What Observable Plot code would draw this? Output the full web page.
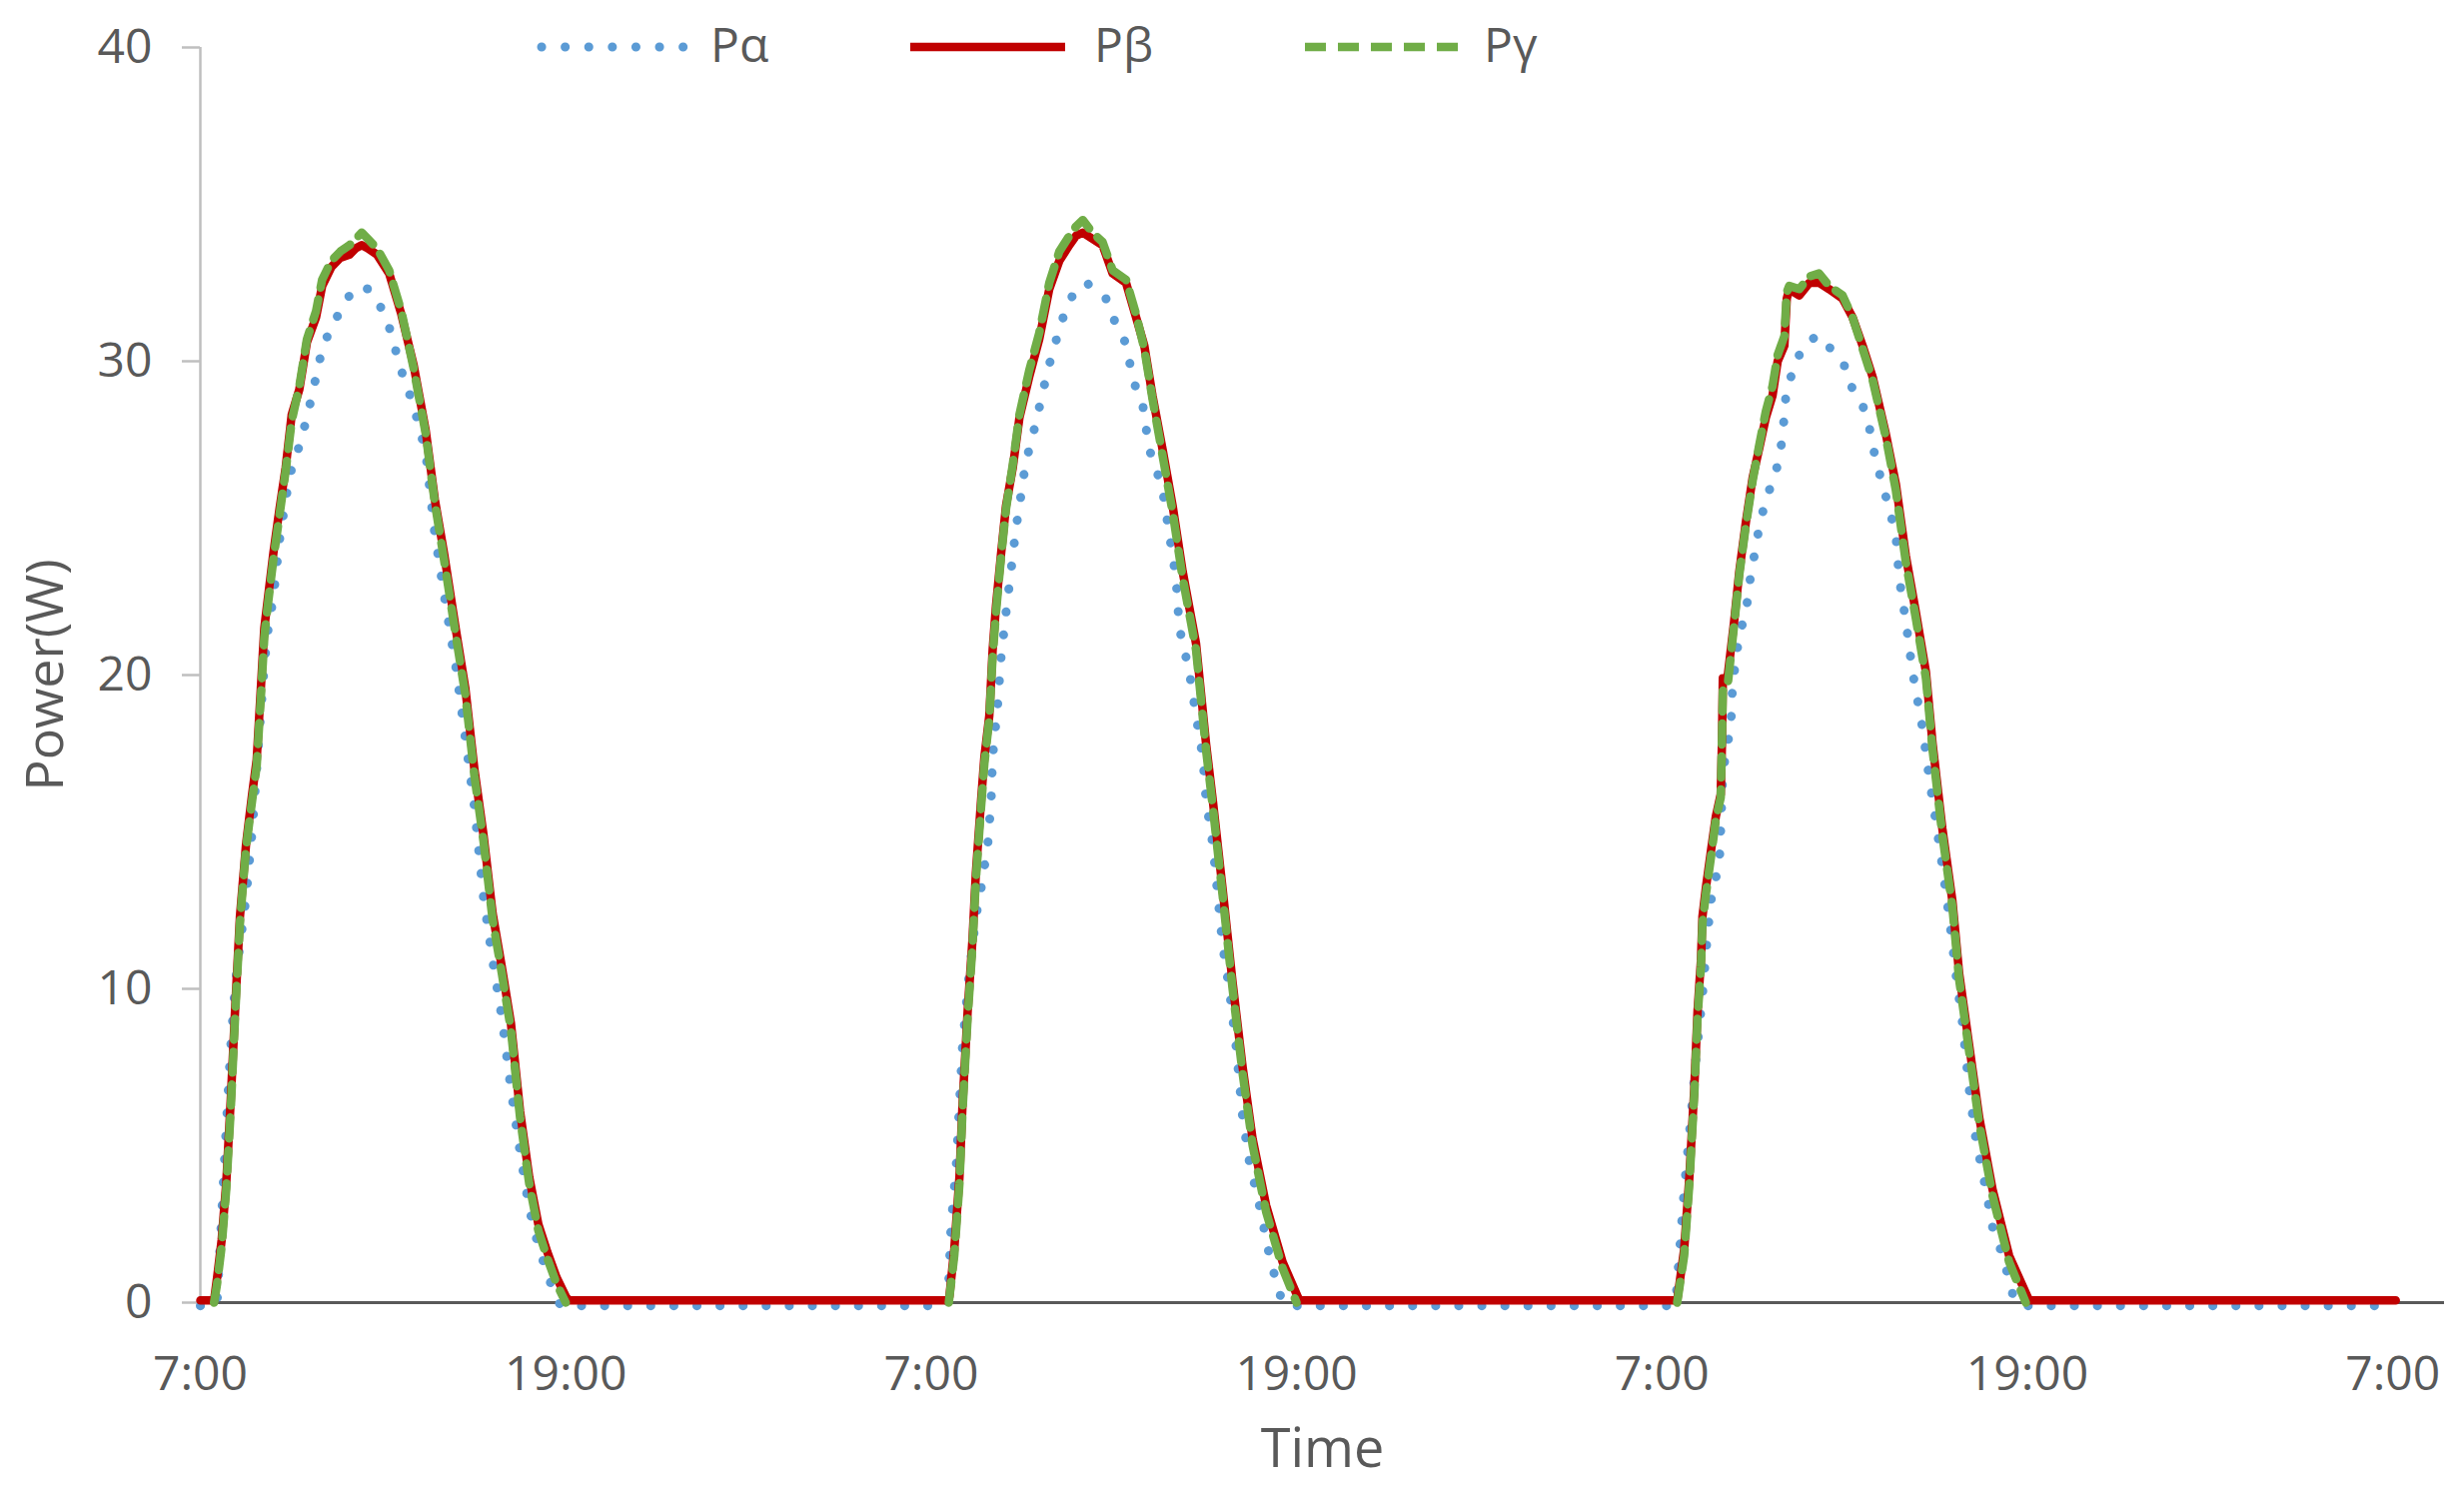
<!DOCTYPE html>
<html><head><meta charset="utf-8">
<script src="https://cdn.jsdelivr.net/npm/d3@7"></script>
<script src="https://cdn.jsdelivr.net/npm/@observablehq/plot@0.6"></script>
<style>
body{margin:0;background:#fff;}
#wrap{position:relative;width:2466px;height:1493px;}
#legend{position:absolute;left:0;top:0;z-index:2;}
</style></head><body>
<div id="wrap"></div>
<script>
// ---- data (hours since first 7:00, power in W) ----
const seriesNames = ["Pα", "Pβ", "Pγ"];
const seriesColors = ["#5b9bd5", "#c00000", "#70ad47"];
const tickHours = [0, 12, 24, 36, 48, 60, 72];
const tickLabels = ["7:00", "19:00", "7:00", "19:00", "7:00", "19:00", "7:00"];
const yTicks = [0, 10, 20, 30, 40];
const xDomain = [0, 73.7];

const pAlpha = [
  [0,-0.1],[0.45,-0.1],[0.55,0],[0.7,2.8],[0.85,5.6],[1.0,8.2],[1.15,10.2],[1.3,11.4],[1.5,12.9],[1.7,15.0],
  [1.85,17.0],[2.0,19.0],[2.1,20.3],[2.2,21.3],[2.4,22.5],[2.6,24.3],[2.8,25.6],[3.0,26.6],[3.25,27.3],[3.5,28.2],
  [3.8,29.5],[4.0,30.4],[4.3,31.1],[4.6,31.6],[4.9,32.1],[5.1,32.3],[5.3,32.4],[5.5,32.3],[5.8,32.0],[6.2,31.1],
  [6.6,29.7],[7.0,28.6],[7.4,27.1],[7.7,24.5],[8.0,22.6],[8.4,20.2],[8.7,18.0],[9.0,15.8],[9.3,12.9],[9.6,10.9],
  [9.9,9.1],[10.2,6.8],[10.5,4.8],[10.8,3.0],[11.1,1.8],[11.4,0.9],[11.7,0.1],[11.85,-0.1],
  [24.49,-0.1],[24.55,0],[24.65,2.4],[24.82,4.3],[25.03,8.2],[25.25,10.5],[25.47,12.3],[25.64,13.2],[25.86,14.6],[25.97,16.0],
  [26.02,17.4],[26.18,19.0],[26.29,20.5],[26.46,22.0],[26.62,23.3],[26.79,24.7],[26.9,25.4],[27.11,26.8],[27.33,27.6],[27.5,28.3],
  [27.66,29.0],[27.83,29.7],[27.99,30.3],[28.21,31.0],[28.43,31.7],[28.76,32.3],[29.09,32.5],[29.41,32.3],[29.74,32.0],[30.02,31.3],
  [30.34,30.7],[30.51,30.0],[30.67,29.3],[30.95,28.6],[31.16,27.2],[31.38,26.6],[31.6,25.9],[31.82,24.5],[32.04,23.1],[32.15,21.5],
  [32.48,20.1],[32.7,18.7],[32.92,17.4],[33.03,16.0],[33.25,14.6],[33.41,13.0],[33.57,11.4],[33.79,10.0],[34.01,8.2],[34.23,5.9],
  [34.45,4.5],[34.78,3.1],[35.11,1.5],[35.43,0.3],[35.65,-0.1],
  [48.35,-0.1],[48.45,0],[48.73,3.6],[48.95,5.9],[49.11,7.7],[49.33,9.8],[49.5,11.8],[49.66,13.2],[49.88,13.9],[49.94,15.3],
  [49.99,16.7],[50.1,17.6],[50.26,18.3],[50.32,19.7],[50.54,21.3],[50.76,22.0],[50.87,22.9],[51.03,23.8],[51.19,24.7],[51.41,25.6],
  [51.69,26.3],[51.85,26.9],[51.96,27.6],[52.07,28.9],[52.29,29.7],[52.51,30.2],[52.84,30.7],[53.27,30.8],[53.6,30.3],[54.04,29.8],
  [54.26,29.1],[54.59,28.6],[54.81,27.9],[55.03,26.8],[55.24,26.1],[55.46,25.3],[55.68,24.5],[55.79,23.1],[56.01,21.7],[56.23,20.1],
  [56.56,18.3],[56.78,16.7],[57.0,15.3],[57.21,13.9],[57.43,12.3],[57.65,10.5],[57.87,8.9],[58.09,6.8],[58.31,5.2],[58.64,3.6],
  [58.86,2.4],[59.19,1.5],[59.51,0.3],[59.73,-0.1],[72.1,-0.1]
];

const pBeta = [
  [0,0.07],[0.45,0.07],[0.55,0.8],[0.7,2.0],[0.85,3.8],[1.0,6.5],[1.15,9.5],[1.3,12.3],[1.5,14.6],[1.7,16.2],
  [1.85,17.3],[2.0,19.8],[2.1,21.5],[2.2,22.3],[2.4,23.9],[2.6,25.3],[2.8,26.6],[3.0,28.3],[3.25,29.1],[3.5,30.6],
  [3.8,31.4],[4.0,32.4],[4.3,33.0],[4.6,33.3],[4.9,33.4],[5.1,33.6],[5.3,33.7],[5.5,33.6],[5.8,33.4],[6.2,32.8],
  [6.6,31.5],[7.0,29.9],[7.4,27.8],[7.7,25.6],[8.0,23.9],[8.4,21.4],[8.7,19.6],[9.0,17.0],[9.3,14.9],[9.6,12.4],
  [9.9,10.7],[10.2,8.9],[10.5,6.1],[10.8,4.0],[11.1,2.5],[11.4,1.6],[11.7,0.8],[12.0,0.2],[12.1,0.07],
  [24.55,0.07],[24.6,0.2],[24.76,1.7],[24.93,4.0],[25.03,6.3],[25.2,9.3],[25.36,11.6],[25.47,13.7],[25.64,16.0],[25.75,17.4],
  [25.91,18.7],[26.02,20.8],[26.13,22.2],[26.29,23.8],[26.46,25.4],[26.68,26.6],[26.9,28.2],[27.22,29.5],[27.55,30.7],[27.88,32.3],
  [28.21,33.2],[28.54,33.7],[28.76,34.0],[28.98,34.1],[29.3,33.9],[29.63,33.7],[29.96,32.8],[30.4,32.5],[30.73,31.4],[31.0,30.5],
  [31.27,28.9],[31.6,27.2],[31.93,25.4],[32.26,23.3],[32.7,21.0],[33.03,17.8],[33.25,16.0],[33.57,13.2],[33.9,10.2],[34.23,7.5],
  [34.56,5.2],[35.0,3.1],[35.54,1.3],[36.09,0.07],
  [48.5,0.07],[48.73,1.7],[48.9,4.0],[49.06,6.8],[49.17,9.3],[49.28,10.9],[49.33,12.3],[49.44,13.2],[49.61,14.4],[49.77,15.5],
  [49.93,16.2],[49.97,17.8],[50.0,19.9],[50.15,19.9],[50.26,20.8],[50.37,21.7],[50.54,23.3],[50.76,24.9],[50.98,26.3],[51.19,27.2],
  [51.41,28.2],[51.63,28.9],[51.8,30.0],[52.02,30.5],[52.1,32.0],[52.18,32.3],[52.51,32.1],[52.84,32.5],[53.16,32.5],[53.49,32.3],
  [53.93,32.0],[54.26,31.4],[54.59,30.5],[54.92,29.5],[55.35,27.7],[55.68,26.1],[56.01,23.8],[56.34,22.0],[56.67,20.1],[56.89,17.8],
  [57.21,15.1],[57.54,12.8],[57.76,10.5],[58.09,8.2],[58.42,5.9],[58.86,3.6],[59.4,1.5],[60.06,0.07],[72.1,0.07]
];

const pGamma = [
  [0.45,0],[0.55,0.6],[0.7,1.8],[0.85,3.6],[1.0,6.2],[1.15,9.3],[1.3,12.1],[1.5,14.5],[1.7,16.0],[1.85,17.1],
  [2.0,19.5],[2.1,21.2],[2.2,22.1],[2.4,23.7],[2.6,25.1],[2.8,26.5],[3.0,28.1],[3.25,29.2],[3.5,30.7],[3.8,31.6],
  [4.0,32.6],[4.3,33.2],[4.6,33.5],[4.9,33.7],[5.1,33.9],[5.3,34.1],[5.5,33.9],[5.8,33.6],[6.2,32.9],[6.6,31.6],
  [7.0,29.8],[7.4,27.7],[7.7,25.5],[8.0,23.7],[8.4,21.2],[8.7,19.4],[9.0,16.8],[9.3,14.7],[9.6,12.2],[9.9,10.5],
  [10.2,8.7],[10.5,5.9],[10.8,3.8],[11.1,2.3],[11.4,1.4],[11.7,0.6],[12.0,0],
  [18,null],
  [24.58,0],[24.76,1.5],[24.93,3.8],[25.03,6.1],[25.2,9.1],[25.36,11.4],[25.47,13.5],[25.64,15.8],[25.75,17.2],[25.91,18.6],
  [26.02,20.6],[26.13,22.0],[26.29,23.7],[26.46,25.3],[26.68,26.7],[26.9,28.3],[27.22,29.7],[27.55,30.9],[27.88,32.5],[28.21,33.5],
  [28.54,34.0],[28.76,34.3],[28.98,34.5],[29.3,34.1],[29.63,33.8],[29.96,32.9],[30.4,32.6],[30.73,31.5],[31.0,30.4],[31.27,28.8],
  [31.6,27.0],[31.93,25.2],[32.26,23.1],[32.7,20.8],[33.03,17.6],[33.25,15.8],[33.57,13.0],[33.9,10.0],[34.23,7.3],[34.56,5.0],
  [35.0,2.9],[35.54,1.1],[36.0,0],
  [42,null],
  [48.5,0],[48.73,1.5],[48.9,3.8],[49.06,6.6],[49.17,9.1],[49.28,10.7],[49.33,12.1],[49.44,13.0],[49.61,14.2],[49.77,15.4],
  [49.93,16.1],[49.97,17.9],[50.0,19.5],[50.15,19.6],[50.26,20.6],[50.37,21.6],[50.54,23.2],[50.76,24.8],[50.98,26.2],[51.19,27.3],
  [51.41,28.4],[51.63,29.2],[51.8,30.2],[52.02,30.8],[52.1,32.2],[52.18,32.4],[52.51,32.3],[52.84,32.7],[53.16,32.8],[53.49,32.4],
  [53.93,32.1],[54.26,31.4],[54.59,30.4],[54.92,29.4],[55.35,27.6],[55.68,25.9],[56.01,23.6],[56.34,21.8],[56.67,19.9],[56.89,17.6],
  [57.21,14.9],[57.54,12.6],[57.76,10.3],[58.09,8.0],[58.42,5.7],[58.86,3.4],[59.4,1.3],[59.95,0]
];

// ---- chart ----
const X = d => d[0], Y = d => d[1];
const chart = Plot.plot({
  width: 2466,
  height: 1493,
  marginLeft: 200,
  marginRight: 20,
  marginTop: 47,
  marginBottom: 190,
  x: {domain: xDomain},
  y: {domain: [0, 40]},
  style: {fontFamily: "'Open Sans', sans-serif", fontSize: "48px", color: "#595959", background: "white", overflow: "visible"},
  marks: [
    Plot.ruleX([0], {y1: 0, y2: 40, stroke: "#bfbfbf", strokeWidth: 2.5}),
    Plot.ruleY([0], {x1: xDomain[0], x2: xDomain[1], stroke: "#595959", strokeWidth: 3}),
    Plot.axisY({ticks: yTicks, tickSize: 18, tickPadding: 30, stroke: "#bfbfbf", strokeWidth: 2.5, fill: "#595959", fontSize: 48, label: null}),
    Plot.axisX({ticks: tickHours, tickSize: 0, tickPadding: 53, fill: "#595959", fontSize: 48, label: null,
      tickFormat: d => tickLabels[tickHours.indexOf(d)]}),
    Plot.text(["Time"], {frameAnchor: "bottom", dy: 164, lineAnchor: "bottom", fontSize: 54, fill: "#595959"}),
    Plot.text(["Power(W)"], {frameAnchor: "left", textAnchor: "middle", rotate: -90, dx: -154, lineAnchor: "middle", fontSize: 52, fill: "#595959"}),
    Plot.line(pAlpha, {x: X, y: Y, stroke: seriesColors[0], strokeWidth: 9, strokeDasharray: "0.1,23", strokeLinecap: "round", strokeLinejoin: "round"}),
    Plot.line(pBeta, {x: X, y: Y, stroke: seriesColors[1], strokeWidth: 8.5, strokeLinejoin: "round"}),
    Plot.line(pGamma, {x: X, y: Y, stroke: seriesColors[2], strokeWidth: 8.5, strokeDasharray: "21,12", strokeLinejoin: "round"})
  ]
});
const wrap = document.getElementById("wrap");
wrap.appendChild(chart);

// ---- legend (overlay at top) ----
const legendItems = [
  {name: seriesNames[0], color: seriesColors[0], x0: 538, x1: 684, tx: 711, w: 9, dash: "0.1,23.5", cap: "round"},
  {name: seriesNames[1], color: seriesColors[1], x0: 911, x1: 1066, tx: 1095, w: 8.5, dash: null, cap: "butt"},
  {name: seriesNames[2], color: seriesColors[2], x0: 1306, x1: 1459, tx: 1485, w: 8.5, dash: "21,12", cap: "butt"}
];
const ns = "http://www.w3.org/2000/svg";
const lg = document.createElementNS(ns, "svg");
lg.setAttribute("id", "legend");
lg.setAttribute("width", 2466);
lg.setAttribute("height", 100);
legendItems.forEach(it => {
  const l = document.createElementNS(ns, "line");
  l.setAttribute("x1", it.x0 + (it.cap === "round" ? 4 : 0));
  l.setAttribute("x2", it.x1);
  l.setAttribute("y1", 47); l.setAttribute("y2", 47);
  l.setAttribute("stroke", it.color);
  l.setAttribute("stroke-width", it.w);
  l.setAttribute("stroke-linecap", it.cap);
  if (it.dash) l.setAttribute("stroke-dasharray", it.dash);
  lg.appendChild(l);
  const t = document.createElementNS(ns, "text");
  t.setAttribute("x", it.tx);
  t.setAttribute("y", 62);
  t.setAttribute("fill", "#595959");
  t.setAttribute("font-family", "'Open Sans', sans-serif");
  t.setAttribute("font-size", 48);
  t.textContent = it.name;
  lg.appendChild(t);
});
wrap.appendChild(lg);
</script>
</body></html>
